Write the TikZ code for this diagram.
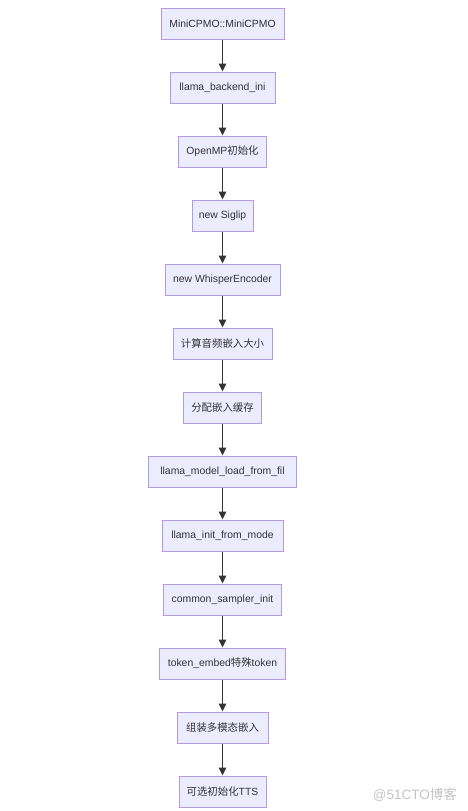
\documentclass[tikz,border=0pt]{standalone}
\usepackage{fontspec}
\setmainfont{Liberation Sans}
\newfontfamily\cjk{Noto Sans CJK SC}
\usetikzlibrary{arrows.meta}
\definecolor{boxfill}{HTML}{ECECFF}
\definecolor{boxline}{HTML}{B29BE6}
\definecolor{arrowc}{HTML}{333333}
\definecolor{txt}{HTML}{333333}
\definecolor{wm}{HTML}{C4C4C4}
\tikzset{
  stepbox/.style={draw=boxline, fill=boxfill, line width=1pt, minimum height=31pt,
    inner sep=0pt, text=txt, font=\fontsize{10.4}{12}\selectfont},
  flowarrow/.style={draw=arrowc, line width=1.3pt, -{Triangle[length=8pt,width=7.5pt]}}
}
\begin{document}
\begin{tikzpicture}[x=1pt,y=1pt]
\useasboundingbox (0,0) rectangle (467,-811);
\fill[white] (0,0) rectangle (467,-811);
\node[stepbox, minimum width=123pt] (n1) at (222.5,-23.5) {MiniCPMO::MiniCPMO};
\node[stepbox, minimum width=105pt] (n2) at (222.5,-87.5) {llama\_backend\_ini};
\node[stepbox, minimum width=88pt] (n3) at (222.5,-151.5) {OpenMP{\cjk 初始化}};
\node[stepbox, minimum width=61pt] (n4) at (222.5,-215.5) {new Siglip};
\node[stepbox, minimum width=115pt] (n5) at (222.5,-279.5) {new WhisperEncoder};
\node[stepbox, minimum width=99pt] (n6) at (222.5,-343.5) {\cjk 计算音频嵌入大小};
\node[stepbox, minimum width=78pt] (n7) at (222.5,-407.5) {\cjk 分配嵌入缓存};
\node[stepbox, minimum width=148pt] (n8) at (222.5,-471.5) {llama\_model\_load\_from\_fil};
\node[stepbox, minimum width=121pt] (n9) at (222.5,-535.5) {llama\_init\_from\_mode};
\node[stepbox, minimum width=118pt] (n10) at (222.5,-599.5) {common\_sampler\_init};
\node[stepbox, minimum width=126pt] (n11) at (222.5,-663.5) {token\_embed{\cjk 特殊}token};
\node[stepbox, minimum width=91pt] (n12) at (222.5,-727.5) {\cjk 组装多模态嵌入};
\node[stepbox, minimum width=87pt] (n13) at (222.5,-791.5) {{\cjk 可选初始化}TTS};
\foreach \a/\b in {n1/n2,n2/n3,n3/n4,n4/n5,n5/n6,n6/n7,n7/n8,n8/n9,n9/n10,n10/n11,n11/n12,n12/n13}
  \draw[flowarrow] (\a.south) -- (\b.north);
\node[text=wm, font=\fontsize{13.5}{15}\selectfont, anchor=east, inner sep=0pt] (wmark) at (457,-795) {@51CTO{\cjk 博客}};
\end{tikzpicture}
\end{document}
